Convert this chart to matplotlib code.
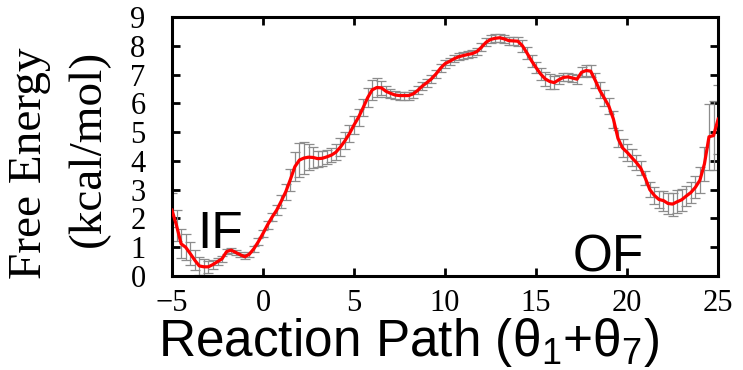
import numpy as np
import matplotlib
matplotlib.use('Agg')
import matplotlib.pyplot as plt

plt.rcParams['mathtext.default'] = 'regular'

# Reaction path grid (step 0.25) and free energy
x = np.arange(-5, 25.01, 0.25)
energia = [
    2.29, 1.75, 1.12, 1.00, 0.78, 0.55, 0.35, 0.32, 0.32, 0.40, 0.50, 0.60,
    0.85, 0.90, 0.82, 0.74, 0.67, 0.76, 0.95, 1.20, 1.48, 1.78, 2.05, 2.29,
    2.60, 2.93, 3.35, 3.80, 4.03, 4.10, 4.13, 4.12, 4.08, 4.09, 4.14, 4.20,
    4.30, 4.48, 4.70, 4.95, 5.25, 5.52, 5.85, 6.20, 6.47, 6.55, 6.54, 6.42,
    6.35, 6.29, 6.27, 6.27, 6.27, 6.33, 6.45, 6.60, 6.72, 6.85, 7.02, 7.22,
    7.38, 7.46, 7.55, 7.62, 7.66, 7.70, 7.73, 7.80, 7.95, 8.12, 8.22, 8.26,
    8.28, 8.24, 8.18, 8.17, 8.16, 8.00, 7.75, 7.48, 7.24, 7.02, 6.85, 6.76,
    6.72, 6.82, 6.90, 6.92, 6.88, 6.84, 7.08, 7.14, 7.12, 6.80, 6.45, 6.18,
    5.90, 5.45, 4.78, 4.45, 4.30, 4.12, 3.95, 3.75, 3.40, 3.00, 2.80, 2.66,
    2.62, 2.52, 2.50, 2.58, 2.65, 2.78, 2.90, 3.08, 3.33, 3.90, 4.84, 4.88,
    5.45,
]
error = [
    0.60, 0.55, 0.50, 0.45, 0.40, 0.35, 0.32, 0.28, 0.20, 0.15, 0.12, 0.10,
    0.09, 0.09, 0.09, 0.09, 0.09, 0.09, 0.10, 0.12, 0.12, 0.13, 0.15, 0.18,
    0.22, 0.28, 0.38, 0.50, 0.60, 0.55, 0.45, 0.35, 0.28, 0.25, 0.25, 0.25,
    0.28, 0.30, 0.30, 0.30, 0.30, 0.30, 0.30, 0.32, 0.35, 0.32, 0.25, 0.20,
    0.16, 0.14, 0.14, 0.14, 0.14, 0.14, 0.14, 0.14, 0.14, 0.14, 0.14, 0.14,
    0.14, 0.13, 0.13, 0.13, 0.13, 0.13, 0.13, 0.13, 0.13, 0.14, 0.14, 0.14,
    0.14, 0.14, 0.14, 0.14, 0.16, 0.20, 0.20, 0.20, 0.20, 0.22, 0.25, 0.25,
    0.22, 0.15, 0.14, 0.14, 0.14, 0.16, 0.18, 0.18, 0.20, 0.25, 0.28, 0.28,
    0.28, 0.30, 0.30, 0.30, 0.30, 0.28, 0.25, 0.25, 0.25, 0.25, 0.28, 0.30,
    0.35, 0.38, 0.40, 0.40, 0.38, 0.35, 0.35, 0.38, 0.45, 0.60, 1.15, 1.20,
    1.20,
]

fig = plt.figure(figsize=(7.43, 3.70), dpi=100)
ax = fig.add_axes([0.2315, 0.254, 0.735, 0.700])

ax.errorbar(x, energia, yerr=error, fmt='none', ecolor='#8c8c8c',
            elinewidth=0.9, capsize=3.5, capthick=0.9, zorder=2)
ax.plot(x, energia, color='#ff0000', lw=2.3, zorder=3)

ax.set_xlim(-5, 25)
ax.set_ylim(0, 9)
ax.set_xticks(range(-5, 26, 5))
ax.set_yticks(range(0, 10))
ax.tick_params(direction='in', length=6, width=2, top=True, right=True,
               labelsize=22)
ax.tick_params(axis='x', pad=9)
ax.tick_params(axis='y', pad=19)
for lab in ax.get_xticklabels() + ax.get_yticklabels():
    lab.set_family('Liberation Serif')
for s in ax.spines.values():
    s.set_linewidth(2.2)

ax.text(-3.6, 0.97, 'IF', fontsize=37, family='Liberation Sans',
        va='baseline', ha='left')
ax.text(17.0, 0.14, 'OF', fontsize=37, family='Liberation Sans',
        va='baseline', ha='left')

fig.text(0.04, 0.56, 'Free Energy', rotation=90, fontsize=34,
         family='Liberation Serif', ha='center', va='center')
fig.text(0.12, 0.60, '(kcal/mol)', rotation=90, fontsize=34,
         family='Liberation Serif', ha='center', va='center')
fig.text(0.55, 0.037, r'Reaction Path (θ$_1$+θ$_7$)', fontsize=37,
         family='Liberation Sans', ha='center', va='baseline')

fig.savefig('out.png', dpi=100)
